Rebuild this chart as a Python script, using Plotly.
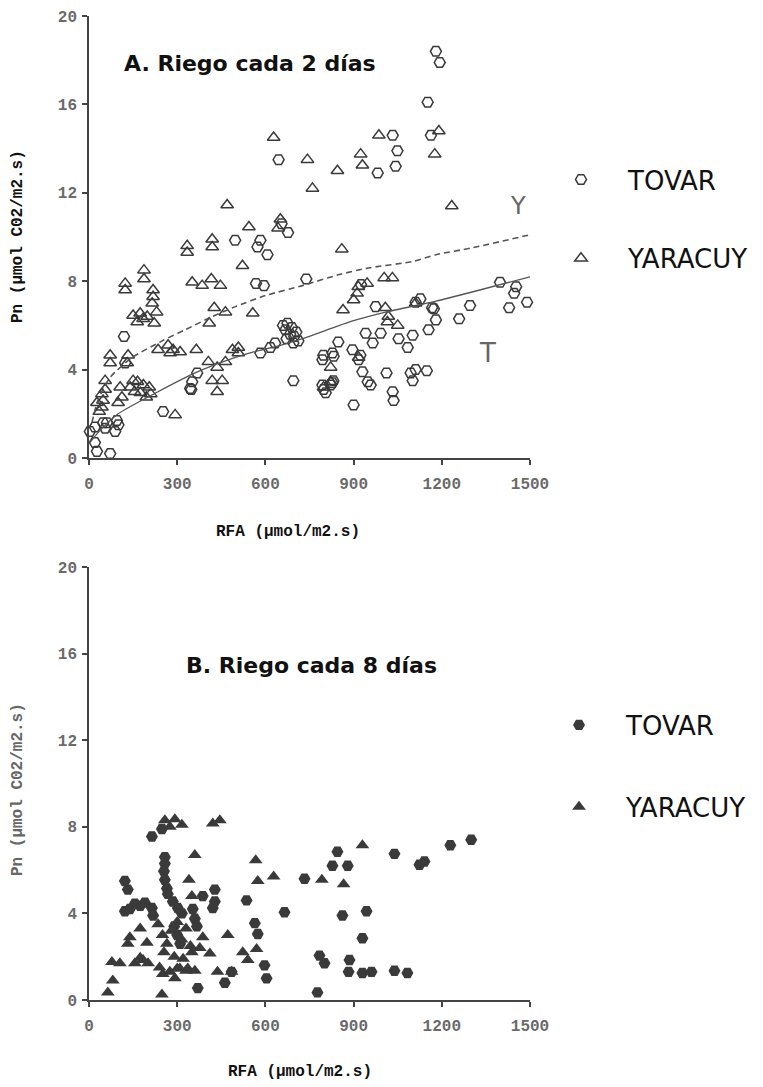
import plotly.graph_objects as go

# ---- Panel A: irrigation every 2 days (open markers) ----
tovar_a = [
    (1180, 18.4), (1193, 17.9), (1152, 16.1), (1163, 14.6), (1033, 14.6), (1049, 13.9),
    (982, 12.9), (1043, 13.2), (645, 13.5),
    (655, 10.6), (677, 10.2), (497, 9.85), (583, 9.85), (573, 9.55), (607, 9.2),
    (568, 7.9), (595, 7.8), (739, 8.1), (925, 7.85),
    (660, 6.0), (668, 5.8), (675, 6.1), (684, 5.6), (690, 5.9), (698, 5.5), (705, 5.7),
    (712, 5.3), (672, 5.4), (695, 5.2), (633, 5.2), (617, 5.0), (583, 4.75),
    (848, 5.25), (797, 4.65), (828, 4.75), (794, 4.45), (832, 4.6), (896, 4.9), (923, 4.65),
    (917, 4.45), (941, 5.65), (965, 5.2), (992, 5.65), (1053, 5.4), (1084, 5.0), (1101, 5.55),
    (975, 6.85), (1111, 7.05), (1127, 7.2), (1167, 6.8), (1155, 5.8), (1180, 6.25),
    (1173, 6.75), (1259, 6.3), (1296, 6.9), (1398, 7.95), (1453, 7.75), (1446, 7.45),
    (1429, 6.8), (1490, 7.05),
    (695, 3.5), (794, 3.3), (805, 2.95), (828, 3.4), (831, 3.5), (930, 3.9), (948, 3.45),
    (958, 3.3), (1012, 3.85), (1033, 3.0), (1036, 2.6), (1094, 3.85), (1101, 3.5),
    (1111, 4.0), (1149, 3.95), (900, 2.4), (798, 3.1), (822, 3.3),
    (368, 3.85), (351, 3.45), (348, 3.1), (344, 3.15), (252, 2.1), (119, 5.5), (123, 4.3),
    (3, 1.2), (20, 1.4), (20, 0.7), (27, 0.3), (48, 1.6), (55, 1.35), (61, 1.6),
    (72, 0.2), (89, 1.2), (95, 1.7), (100, 1.5),
]

yaracuy_a = [
    (628, 14.5), (743, 13.5), (845, 13.0), (924, 13.75), (930, 13.25), (986, 14.6),
    (1190, 14.8), (1176, 13.75), (760, 12.2), (1234, 11.4), (470, 11.45),
    (651, 10.8), (643, 10.4), (544, 10.45), (860, 9.45), (334, 9.6), (334, 9.3), (419, 9.9),
    (419, 9.55), (522, 8.7), (187, 8.5), (187, 8.1), (123, 7.9), (123, 7.6), (218, 7.6),
    (218, 7.3), (215, 7.0), (230, 6.6), (222, 6.1), (150, 6.45), (174, 6.55), (198, 6.4),
    (164, 6.15), (184, 6.3), (351, 7.95), (385, 7.8), (416, 8.1), (447, 7.8), (426, 6.8),
    (464, 6.6), (409, 6.1), (557, 6.55),
    (916, 7.75), (946, 7.9), (912, 7.45), (900, 7.15), (1004, 8.15), (1032, 8.15),
    (864, 6.7), (1008, 6.8), (1018, 6.4), (1015, 6.15), (1050, 6.0), (1111, 7.0),
    (72, 4.65), (72, 4.3), (133, 4.65), (130, 4.3), (235, 4.9), (269, 5.1), (286, 4.9),
    (310, 4.8), (276, 4.75), (365, 4.9), (406, 4.35), (436, 4.1), (464, 4.35), (488, 4.9),
    (508, 5.0), (508, 4.75), (419, 3.5), (453, 3.5), (436, 3.0),
    (150, 3.5), (165, 3.45), (185, 3.3), (205, 3.2), (155, 3.0), (175, 2.95), (210, 2.9),
    (195, 2.75), (140, 3.2), (55, 3.1), (48, 2.6), (44, 2.3), (106, 3.2), (112, 2.75),
    (99, 2.5), (44, 2.9), (55, 3.5), (27, 2.5), (35, 2.1), (293, 1.95),
    (822, 4.1), (798, 3.2), (917, 4.55), (822, 3.45),
]

# fitted response curves for panel A
curve_y_x = [10, 30, 72, 147, 249, 327, 419, 498, 600, 726, 851, 951, 1105, 1180, 1300, 1500]
curve_y_y = [1.6, 2.6, 3.65, 4.55, 5.3, 5.8, 6.4, 6.85, 7.35, 7.8, 8.3, 8.6, 8.9, 9.2, 9.5, 10.1]
curve_t_x = [3, 31, 99, 235, 361, 498, 560, 651, 726, 897, 1009, 1180, 1300, 1500]
curve_t_y = [0.7, 1.15, 2.0, 3.0, 3.85, 4.55, 4.8, 5.1, 5.4, 6.2, 6.6, 7.1, 7.5, 8.2]

# ---- Panel B: irrigation every 8 days (filled markers) ----
tovar_b = [
    (122, 5.5), (132, 5.1), (214, 7.55), (248, 7.9),
    (258, 6.6), (258, 6.3), (255, 5.95), (258, 5.55), (265, 5.15), (268, 4.9), (285, 4.55),
    (302, 4.25), (316, 4.0),
    (387, 4.8), (428, 5.1), (428, 4.55), (421, 4.25), (536, 4.6), (665, 4.05), (564, 3.55),
    (574, 3.05),
    (122, 4.1), (156, 4.45), (190, 4.5), (214, 4.25), (218, 3.9), (139, 4.2), (174, 4.35),
    (353, 4.2), (360, 3.75), (367, 3.4), (290, 3.4), (300, 3.0), (310, 2.6),
    (597, 1.6), (604, 1.0), (485, 1.3), (462, 0.8), (370, 0.55), (777, 0.35), (784, 2.05),
    (801, 1.7),
    (733, 5.6), (845, 6.85), (828, 6.2), (880, 6.2), (1039, 6.75), (1124, 6.25),
    (1141, 6.4), (1229, 7.15), (1300, 7.4),
    (862, 3.9), (944, 4.1), (930, 2.85), (886, 1.85), (883, 1.3), (930, 1.25), (961, 1.3),
    (1039, 1.35), (1083, 1.25),
]

yaracuy_b = [
    (258, 8.3), (292, 8.35), (316, 8.1), (275, 8.0), (421, 8.15), (445, 8.3), (360, 6.7),
    (567, 6.45), (574, 5.5), (628, 5.7), (792, 5.55), (340, 5.55), (350, 4.8), (472, 3.0),
    (570, 2.35), (523, 2.2), (540, 1.85),
    (78, 1.75), (105, 1.7), (156, 1.7), (184, 1.85), (201, 1.7), (174, 1.95), (81, 0.9),
    (64, 0.35), (248, 0.25),
    (139, 2.9), (132, 2.6), (174, 3.3), (197, 2.65),
    (235, 3.5), (250, 3.0), (265, 2.6), (280, 3.2), (300, 3.6), (315, 2.8), (330, 3.3),
    (345, 2.5), (255, 2.2), (290, 2.0), (320, 1.9), (350, 2.2), (240, 1.5), (275, 1.3),
    (300, 1.45), (330, 1.35),
    (437, 1.3), (485, 1.3), (336, 1.45), (360, 1.35), (309, 1.45), (387, 2.9), (411, 2.15),
    (377, 2.4), (292, 1.0), (251, 1.2),
    (930, 7.15), (866, 5.35),
]

x_ticks = [0, 300, 600, 900, 1200, 1500]
y_ticks = [0, 4, 8, 12, 16, 20]

W, H = 763, 1087
MARK = "#3a3a3a"
AXIS = "#444444"
TICKFONT = dict(family="Liberation Mono", size=16, color="#6a6a6a", weight="bold")
TITLEFONT = "Liberation Mono"


def xs(pts):
    return [p[0] for p in pts]


def ys(pts):
    return [p[1] for p in pts]


fig = go.Figure()

# panel A scatter
fig.add_trace(go.Scatter(
    x=xs(tovar_a), y=ys(tovar_a), mode="markers", name="TOVAR",
    marker=dict(symbol="hexagon2-open", size=11, color=MARK, line=dict(width=1.5)),
    xaxis="x", yaxis="y", legend="legend", legendgroup="ta", cliponaxis=False))
fig.add_trace(go.Scatter(
    x=xs(yaracuy_a), y=ys(yaracuy_a), mode="markers", name="YARACUY",
    marker=dict(symbol="triangle-up-open", size=11, color=MARK, line=dict(width=1.5)),
    xaxis="x", yaxis="y", legend="legend", legendgroup="ya", cliponaxis=False))
fig.add_trace(go.Scatter(
    x=curve_y_x, y=curve_y_y, mode="lines", showlegend=False,
    line=dict(color="#555555", width=1.6, dash="6px,4px", shape="spline", smoothing=0.6),
    xaxis="x", yaxis="y"))
fig.add_trace(go.Scatter(
    x=curve_t_x, y=curve_t_y, mode="lines", showlegend=False,
    line=dict(color="#555555", width=1.3, shape="spline", smoothing=0.6),
    xaxis="x", yaxis="y"))

# panel B scatter
fig.add_trace(go.Scatter(
    x=xs(tovar_b), y=ys(tovar_b), mode="markers", name="TOVAR",
    marker=dict(symbol="hexagon2", size=12, color=MARK, line=dict(width=0)),
    xaxis="x2", yaxis="y2", legend="legend2", legendgroup="tb", cliponaxis=False))
fig.add_trace(go.Scatter(
    x=xs(yaracuy_b), y=ys(yaracuy_b), mode="markers", name="YARACUY",
    marker=dict(symbol="triangle-up", size=12, color=MARK, line=dict(width=0)),
    xaxis="x2", yaxis="y2", legend="legend2", legendgroup="yb", cliponaxis=False))

xdom = [89 / W, 530 / W]
ydom_a = [1 - 458 / H, 1 - 16 / H]
ydom_b = [1 - 1000 / H, 1 - 567 / H]


def main_axis(dom, rng, ticks, anchor, **kw):
    return dict(domain=dom, range=rng, tickvals=ticks, ticktext=[str(t) for t in ticks],
                anchor=anchor, ticks="outside", ticklen=5, tickwidth=1.5, tickcolor=AXIS,
                showline=True, linecolor=AXIS, linewidth=1.5, showgrid=False,
                zeroline=False, tickfont=TICKFONT, **kw)


def cross_axis(dom, rng, ticks, anchor, over):
    # inner half of the cross-shaped tick marks
    return dict(domain=dom, range=rng, tickvals=ticks, anchor=anchor, overlaying=over,
                ticks="inside", ticklen=6, tickwidth=1.5, tickcolor=AXIS,
                showticklabels=False, showline=False, showgrid=False, zeroline=False)


LEGEND_FONT = dict(family="DejaVu Sans", size=26, color="#111111")

fig.update_layout(
    width=W, height=H, margin=dict(l=0, r=0, t=0, b=0, autoexpand=False),
    paper_bgcolor="white", plot_bgcolor="rgba(0,0,0,0)",
    xaxis=main_axis(xdom, [0, 1500], x_ticks, "y", ticklabelstandoff=5),
    yaxis=main_axis(ydom_a, [0, 20], y_ticks, "x", ticklabelstandoff=2),
    xaxis2=main_axis(xdom, [0, 1500], x_ticks, "y2", ticklabelstandoff=5),
    yaxis2=main_axis(ydom_b, [0, 20], y_ticks, "x2", ticklabelstandoff=2),
    xaxis3=cross_axis(xdom, [0, 1500], x_ticks, "y", "x"),
    yaxis3=cross_axis(ydom_a, [0, 20], y_ticks, "x", "y"),
    xaxis4=cross_axis(xdom, [0, 1500], x_ticks, "y2", "x2"),
    yaxis4=cross_axis(ydom_b, [0, 20], y_ticks, "x2", "y2"),
    legend=dict(x=534 / W, xanchor="left", y=1 - 219 / H, yanchor="middle",
                font=LEGEND_FONT, itemwidth=84, tracegroupgap=42,
                bgcolor="rgba(0,0,0,0)", itemclick=False),
    legend2=dict(x=532 / W, xanchor="left", y=1 - 766 / H, yanchor="middle",
                 font=LEGEND_FONT, itemwidth=84, tracegroupgap=45,
                 bgcolor="rgba(0,0,0,0)", itemclick=False),
)


def label(text, px, py, size, color, weight="normal", family="DejaVu Sans", angle=0):
    return dict(text=text, x=px / W, y=1 - py / H, xref="paper", yref="paper",
                xanchor="center", yanchor="middle", textangle=angle, showarrow=False,
                font=dict(family=family, size=size, color=color, weight=weight))


annotations = [
    label("A. Riego cada 2 días", 250, 64, 22, "#111111", "bold"),
    label("B. Riego cada 8 días", 311, 665, 22, "#111111", "bold"),
    label("RFA (µmol/m2.s)", 288, 532, 16, "#111111", "bold", TITLEFONT),
    label("RFA (µmol/m2.s)", 300, 1072, 16, "#111111", "bold", TITLEFONT),
    label("Pn (µmol C02/m2.s)", 18, 237, 16, "#111111", "bold", TITLEFONT, -90),
    label("Pn (µmol C02/m2.s)", 18, 790, 16, "#666666", "bold", TITLEFONT, -90),
    dict(text="Y", x=1459, y=11.4, xref="x", yref="y", showarrow=False,
         font=dict(family="DejaVu Sans", size=24, color="#666666")),
    dict(text="T", x=1357, y=4.75, xref="x", yref="y", showarrow=False,
         font=dict(family="DejaVu Sans", size=26, color="#666666")),
]
fig.update_layout(annotations=annotations)

fig.write_html("out.html")
